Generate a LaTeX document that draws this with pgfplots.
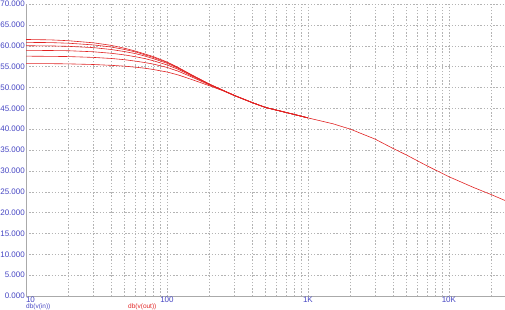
\documentclass[border=0pt]{standalone}
\usepackage{pgfplots}
\pgfplotsset{compat=1.18}
\usepackage{fontspec}
\setmainfont{Liberation Sans}
\definecolor{tickblue}{RGB}{70,70,195}
\definecolor{trace}{RGB}{225,35,35}
\definecolor{gridgray}{RGB}{180,180,180}
\definecolor{axisgray}{RGB}{170,170,170}
\begin{document}
\begin{tikzpicture}
\begin{axis}[
  at={(26pt,13pt)}, anchor=south west,
  scale only axis, width=479pt, height=292pt,
  xmode=log, log basis x=10,
  xmin=10, xmax=25000, ymin=0, ymax=70,
  axis x line*=bottom, axis y line*=left,
  axis line style={axisgray, line width=0.6pt},
  xtick={10,100,1000,10000},
  xticklabels={\makebox[0pt][l]{10},100,1K,10K},
  minor xtick={20,30,40,50,60,70,80,90,200,300,400,500,600,700,800,900,2000,3000,4000,5000,6000,7000,8000,9000,20000},
  ytick={0,5,10,15,20,25,30,35,40,45,50,55,60,65,70},
  yticklabels={0.000,5.000,10.000,15.000,20.000,25.000,30.000,35.000,40.000,45.000,50.000,55.000,60.000,65.000,70.000},
  major tick length=0pt, minor tick length=0pt,
  grid=both,
  major grid style={gridgray, dash pattern=on 1.4pt off 1.8pt, line width=0.4pt},
  minor grid style={gridgray, dash pattern=on 1.4pt off 1.8pt, line width=0.4pt},
  ticklabel style={font=\fontsize{8}{9}\selectfont, text=tickblue},
  yticklabel style={anchor=east, inner sep=1pt},
  xticklabel style={anchor=north, inner sep=0.5pt},
  clip=true,
]
\addplot[trace, line width=0.6pt] coordinates {
(10,61.5)(15,61.4)(20,61.2)(30,60.7)(40,60.1)(50,59.4)(60,58.7)(70,58.0)(80,57.4)(100,56.1)(120,54.8)(150,53.0)(200,50.8)
(250,49.3)(300,48.1)(400,46.4)(500,45.2)(700,44.0)(1000,42.7)(1500,41.3)(2000,40.0)(3000,37.6)(4000,35.4)(5000,33.8)(7000,31.2)(10000,28.6)(15000,26.0)(20000,24.3)(25000,22.9)};
\addplot[trace, line width=0.6pt] coordinates {
(10,60.8)(15,60.75)(20,60.6)(30,60.2)(40,59.7)(50,59.1)(60,58.5)(70,57.8)(80,57.2)(100,56.0)(120,54.7)(150,52.95)(200,50.8)(250,49.3)(300,48.1)(400,46.4)(500,45.2)(700,44.0)(1000,42.7)};
\addplot[trace, line width=0.6pt] coordinates {
(10,60.0)(15,59.95)(20,59.85)(30,59.55)(40,59.1)(50,58.6)(60,58.1)(70,57.5)(80,56.9)(100,55.8)(120,54.6)(150,52.9)(200,50.75)(250,49.3)(300,48.1)(400,46.4)(500,45.2)(700,44.0)(1000,42.7)};
\addplot[trace, line width=0.6pt] coordinates {
(10,58.9)(15,58.85)(20,58.8)(30,58.55)(40,58.2)(50,57.8)(60,57.35)(70,56.9)(80,56.4)(100,55.4)(120,54.35)(150,52.75)(200,50.7)(250,49.3)(300,48.1)(400,46.4)(500,45.2)(700,44.0)(1000,42.7)};
\addplot[trace, line width=0.6pt] coordinates {
(10,57.5)(15,57.45)(20,57.4)(30,57.2)(40,56.95)(50,56.65)(60,56.3)(70,55.95)(80,55.6)(100,54.8)(120,53.9)(150,52.5)(200,50.6)(250,49.25)(300,48.1)(400,46.4)(500,45.2)(700,44.0)(1000,42.7)};
\addplot[trace, line width=0.6pt] coordinates {
(10,55.7)(15,55.7)(20,55.65)(30,55.5)(40,55.3)(50,55.1)(60,54.85)(70,54.6)(80,54.3)(100,53.7)(120,53.0)(150,51.9)(200,50.4)(250,49.2)(300,48.05)(400,46.4)(500,45.2)(700,44.0)(1000,42.7)};
\end{axis}
\node[anchor=west, inner sep=0pt, text=tickblue, font=\fontsize{6.5}{7}\selectfont] at (26pt,2.6pt) {db(v(in))};
\node[anchor=west, inner sep=0pt, text=trace, font=\fontsize{6.5}{7}\selectfont] at (128pt,2.6pt) {db(v(out))};
\pgfresetboundingbox
\path[use as bounding box] (0,0) rectangle (505pt,309pt);
\end{tikzpicture}
\end{document}
